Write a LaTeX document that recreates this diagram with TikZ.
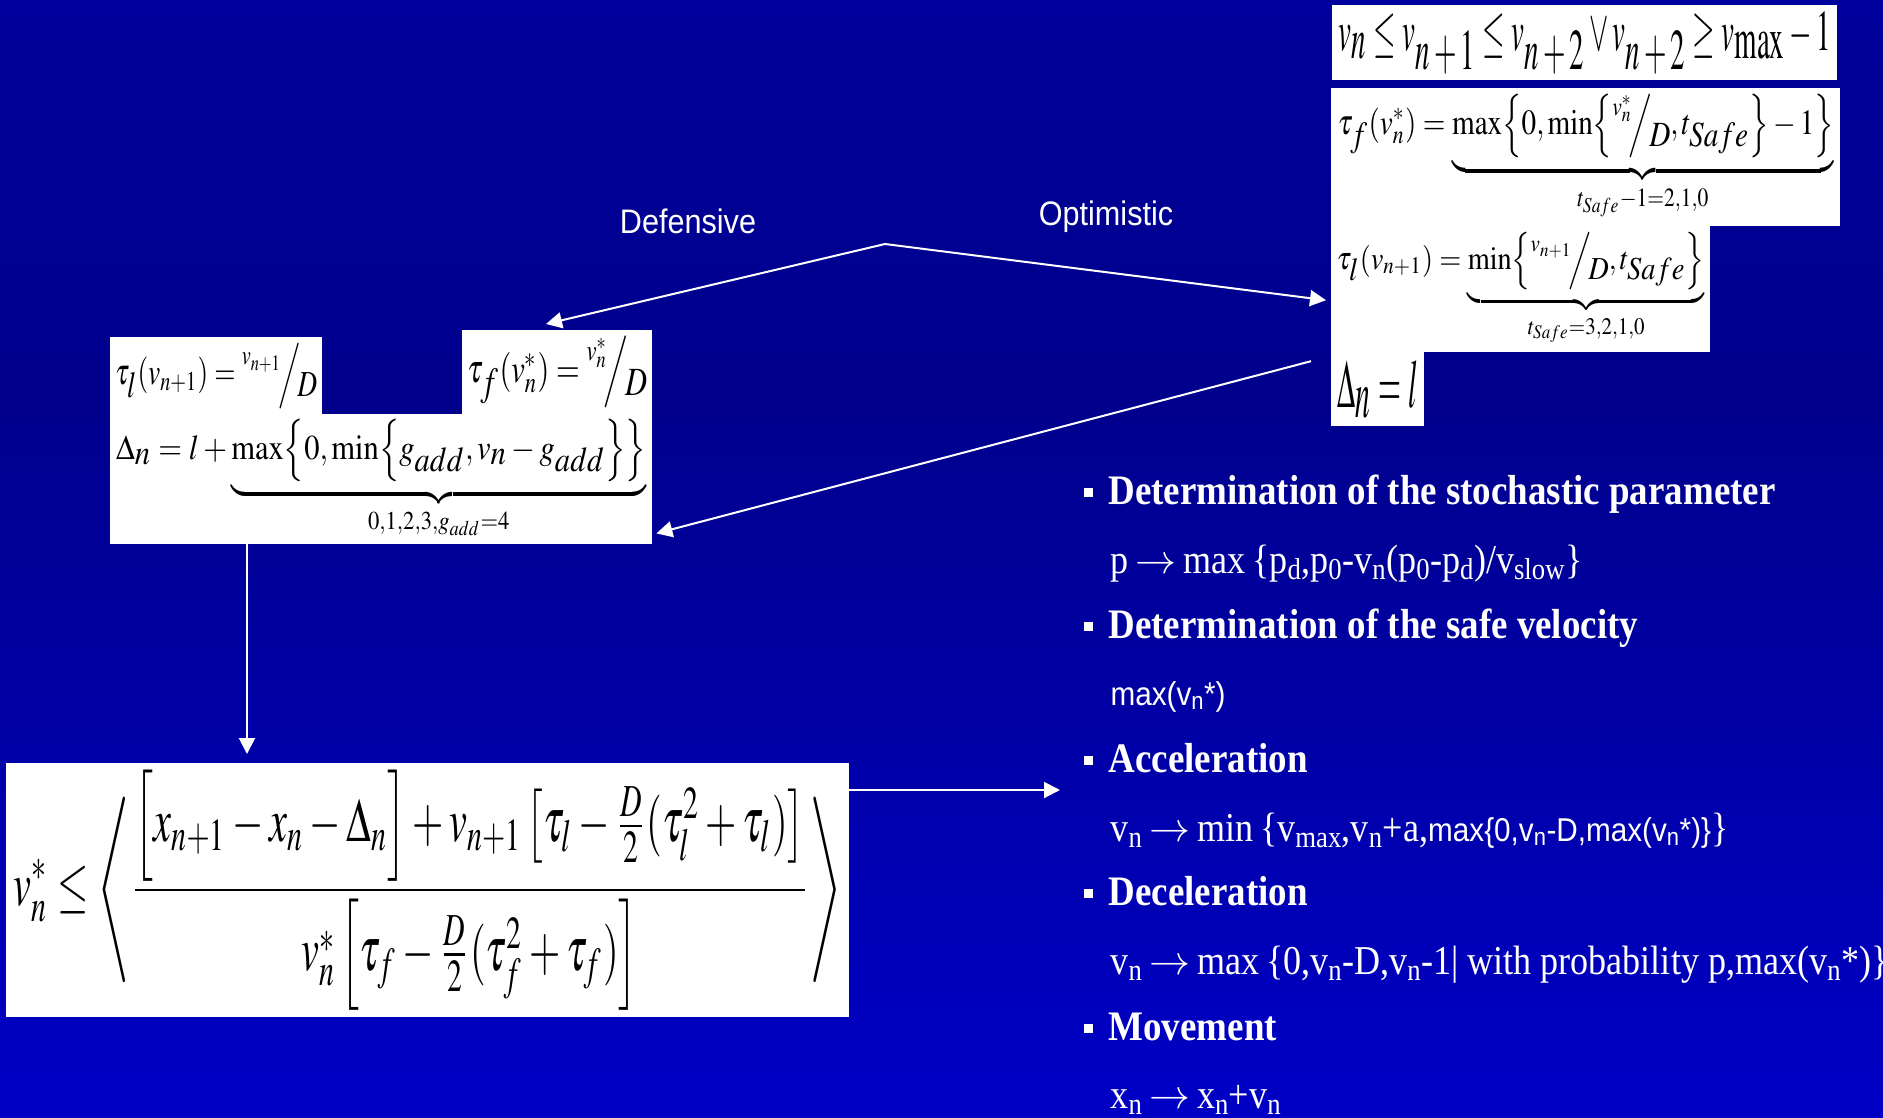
\documentclass[tikz,border=0pt]{standalone}
\usepackage{amsmath}
\usepackage{mathptmx}
\usepackage{graphicx}
\usepackage{fontspec}
\setmainfont{Liberation Serif}[FakeStretch=0.88]
\newfontfamily\arialfont{Liberation Sans}[FakeStretch=0.9]
\usetikzlibrary{arrows.meta, positioning, calc}

\definecolor{bgtop}{RGB}{0,0,236}
\definecolor{bgmidA}{RGB}{0,0,152}
\definecolor{bgdark}{RGB}{0,0,140}
\definecolor{bgmidB}{RGB}{0,0,185}
\definecolor{bgbot}{RGB}{0,0,242}
\pgfdeclareverticalshading{slidebg}{100bp}{color(0bp)=(bgbot); color(32bp)=(bgmidB);
  color(57bp)=(bgdark); color(73bp)=(bgmidA); color(100bp)=(bgtop)}

\newcommand{\slfrac}[2]{\raisebox{1.2ex}{$\scriptstyle #1$}\!\Big/\!\raisebox{-0.7ex}{$#2$}}
\newcommand{\lo}[1]{_{\textstyle #1}}
\newcommand{\goes}{\,\(\rightarrow\)\,}

\begin{document}
\begin{tikzpicture}[
  x=1pt, y=-1pt,
  eqbox/.style={fill=white, inner sep=0pt, anchor=north west},
  lbl/.style={text=white, font=\arialfont\fontsize{34}{40}\selectfont},
  head/.style={text=white, anchor=base west, font=\fontsize{42}{50}\selectfont\bfseries},
  rule/.style={text=white, anchor=base west, font=\fontsize{41}{48}\selectfont},
  bsq/.style={fill=white, minimum size=9pt, inner sep=0pt},
  arrow/.style={-{Triangle[length=16pt, width=16pt]}, white, line width=2pt},
]
  % background
  \path[use as bounding box, clip] (0,0) rectangle (1883,1117);
  \shade[shading=slidebg] (0,0) rectangle (1883,1117);

  % optimistic side
  \node[eqbox, minimum width=505pt, minimum height=75pt] (vcond) at (1332,5)
    {\resizebox*{492pt}{62pt}{$v\lo{n} \le v\lo{n+1} \le v\lo{n+2} \vee v\lo{n+2} \ge v\lo{\mathrm{max}}-1$}};
  \node[eqbox, minimum width=509pt, minimum height=138pt] (tauFopt) at (1331,88)
    {\resizebox*{496pt}{126pt}{$\displaystyle \tau\lo{f}(v_n^*) = \underbrace{\max\Bigl\{0,\min\Bigl\{\slfrac{v_n^*}{D},t\lo{Safe}\Bigr\}-1\Bigr\}}_{t_{Safe}-1=2,1,0}$}};
  \node[eqbox, minimum width=379pt, minimum height=126pt] (tauLopt) at (1331,226)
    {\resizebox*{368pt}{114pt}{$\displaystyle \tau\lo{l}(v_{n+1}) = \underbrace{\min\Bigl\{\slfrac{v_{n+1}}{D},t\lo{Safe}\Bigr\}}_{t_{Safe}=3,2,1,0}$}};
  \node[eqbox, minimum width=93pt, minimum height=74pt] (deltaOpt) at (1331,352)
    {\resizebox*{80pt}{58pt}{$\Delta\lo{n} = l$}};

  % defensive side
  \node[eqbox, minimum width=212pt, minimum height=77pt] (tauLdef) at (110,337)
    {\resizebox*{202pt}{66pt}{$\tau\lo{l}(v_{n+1}) = \slfrac{v_{n+1}}{D}$}};
  \node[eqbox, minimum width=190pt, minimum height=84pt] (tauFdef) at (462,330)
    {\resizebox*{180pt}{72pt}{$\tau\lo{f}(v_n^*) = \slfrac{v_n^*}{D}$}};
  \node[eqbox, minimum width=542pt, minimum height=130pt] (deltaDef) at (110,414)
    {\resizebox*{530pt}{120pt}{$\displaystyle \Delta\lo{n} = l + \underbrace{\max\Bigl\{0,\min\Bigl\{g\lo{add},v\lo{n}-g\lo{add}\Bigr\}\Bigr\}}_{0,1,2,3,g_{add}=4}$}};

  % safe velocity
  \node[eqbox, minimum width=843pt, minimum height=254pt] (vsafe) at (6,763)
    {\resizebox*{828pt}{240pt}{$\displaystyle v_n^* \le \left\langle \frac{\Bigl[x_{n+1}-x_n-\Delta_n\Bigr]+v_{n+1}\left[\tau_l-\frac{D}{2}(\tau_l^2+\tau_l)\right]}{v_n^*\left[\tau_f-\frac{D}{2}(\tau_f^2+\tau_f)\right]}\right\rangle$}};

  % labels
  \node[lbl] (defl) at (688,221) {Defensive};
  \node[lbl] (optl) at (1106,217) {Optimistic};

  % arrows
  \coordinate (fork) at (885,244);
  \coordinate (acc) at (1060,790);
  \draw[arrow] (fork) -- ($(tauFdef.north west)+(84,-6)$);
  \draw[arrow] (fork) -- ($(tauLopt.west)+(-5,11)$);
  \draw[arrow] ($(deltaOpt.west)+(-20,-28)$) -- ($(deltaDef.south east)+(4,-11)$);
  \draw[arrow] ($(deltaDef.south west)+(137,0)$) -- ($(vsafe.north west)+(241,-9)$);
  \draw[arrow] ($(vsafe.north east)+(0,27)$) -- (acc);

  % update rules
  \node[head] (hstoch) at (1105,504) {Determination of the stochastic parameter};
  \node[rule] (rstoch) at (1107,573) {p\goes max\,\{p\textsubscript{d},p\textsubscript{0}-v\textsubscript{n}(p\textsubscript{0}-p\textsubscript{d})/v\textsubscript{slow}\}};
  \node[head] (hsafe) at (1105,638) {Determination of the safe velocity};
  \node[rule, font=\arialfont\fontsize{33}{40}\selectfont] (rsafe) at (1107,705) {max(v\textsubscript{n}*)};
  \node[head] (hacc) at (1105,772) {Acceleration};
  \node[rule] (racc) at (1107,841) {v\textsubscript{n}\goes min\,\{v\textsubscript{max},v\textsubscript{n}+a,{\arialfont\fontsize{33}{40}\selectfont max\{0,v\textsubscript{n}-D,max(v\textsubscript{n}*)\}}\}};
  \node[head] (hdec) at (1105,905) {Deceleration};
  \node[rule] (rdec) at (1107,974) {v\textsubscript{n}\goes max\,\{0,v\textsubscript{n}-D,v\textsubscript{n}-1| with probability p,max(v\textsubscript{n}*)\}};
  \node[head] (hmove) at (1105,1040) {Movement};
  \node[rule] (rmove) at (1107,1108) {x\textsubscript{n}\goes x\textsubscript{n}+v\textsubscript{n}};

  % bullets
  \foreach \h in {hstoch, hsafe, hacc, hdec, hmove}
    \node[bsq] at ($(\h.base west)+(-17,-12)$) {};
\end{tikzpicture}
\end{document}
